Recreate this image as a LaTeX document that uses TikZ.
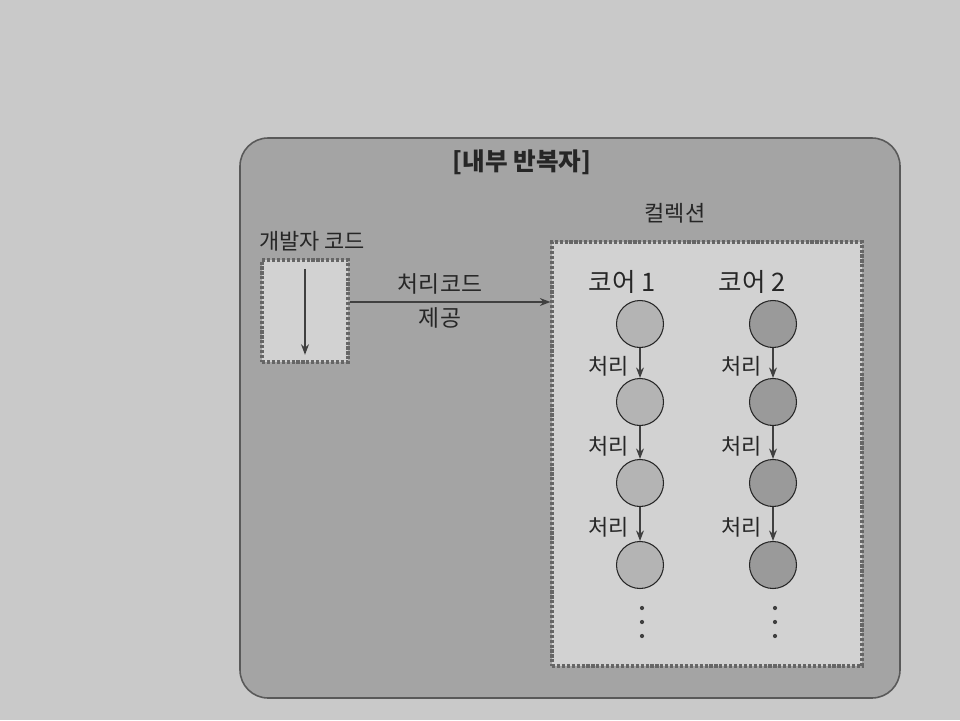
\documentclass[tikz,border=0pt]{standalone}
\usepackage{fontspec}
\setmainfont{Noto Sans CJK KR}
\usetikzlibrary{arrows.meta}
\definecolor{pagegray}{HTML}{C9C9C9}
\definecolor{outergray}{HTML}{A4A4A4}
\definecolor{innergray}{HTML}{D2D2D2}
\definecolor{coreone}{HTML}{B4B4B4}
\definecolor{coretwo}{HTML}{9A9A9A}
\begin{document}
\begin{tikzpicture}[x=0.02cm, y=-0.02cm,
    box/.style={draw=black!60, densely dotted, line width=1.8pt, fill=innergray, inner sep=0pt},
    core/.style={circle, draw=black!85, line width=0.6pt, minimum size=0.94cm, inner sep=0pt},
    lbl/.style={font=\fontsize{12.5}{15}\selectfont, text=black!85, inner sep=1pt},
    flow/.style={-{Stealth[length=6pt,width=4.5pt]}, draw=black!75, line width=0.7pt}
  ]
  \fill[pagegray] (0,0) rectangle (960,720);
  % outer frame
  \draw[draw=black!65, fill=outergray, line width=0.9pt, rounded corners=16pt] (240,138) rectangle (900,698);
  \node[lbl, font=\fontsize{14}{16}\selectfont\bfseries] (title) at (522,162) {[내부 반복자]};

  % developer code
  \node[lbl] (devlbl) at (312,241) {개발자 코드};
  \node[box, minimum width=1.72cm, minimum height=2.04cm] (dev) at (305,311) {};
  \draw[flow] ([yshift=-6pt]dev.north) -- ([yshift=5pt]dev.south);

  % collection
  \node[lbl] (colllbl) at (675,213) {컬렉션};
  \node[box, minimum width=6.2cm, minimum height=8.48cm] (coll) at (707,454) {};
  \coordinate (arrowY) at (0,302);
  \draw[flow] (dev.east |- arrowY) -- (coll.west |- arrowY);
  \node[lbl, font=\fontsize{13}{15}\selectfont] (give1) at (440,284) {처리코드};
  \node[lbl, font=\fontsize{13}{15}\selectfont] (give2) at (440,318) {제공};

  \node[lbl, font=\fontsize{14.5}{17}\selectfont] (core1) at (622,282) {코어 1};
  \node[lbl, font=\fontsize{14.5}{17}\selectfont] (core2) at (752,282) {코어 2};

  \foreach \i/\yy in {1/324,2/402,3/483,4/565}{
    \node[core, fill=coreone] (cL\i) at (640,\yy) {};
    \node[core, fill=coretwo] (cR\i) at (773,\yy) {};
  }
  \foreach \i in {1,2,3}{
    \pgfmathtruncatemacro{\j}{\i+1}
    \draw[flow] (cL\i) -- (cL\j) node[lbl, midway, left=5pt, yshift=-2pt] (pL\i) {처리};
    \draw[flow] (cR\i) -- (cR\j) node[lbl, midway, left=5pt, yshift=-2pt] (pR\i) {처리};
  }
  \foreach \yy in {608,622,636}{
    \fill[black!75] (642,\yy) circle (1.2pt);
    \fill[black!75] (775,\yy) circle (1.2pt);
  }
\end{tikzpicture}
\end{document}
